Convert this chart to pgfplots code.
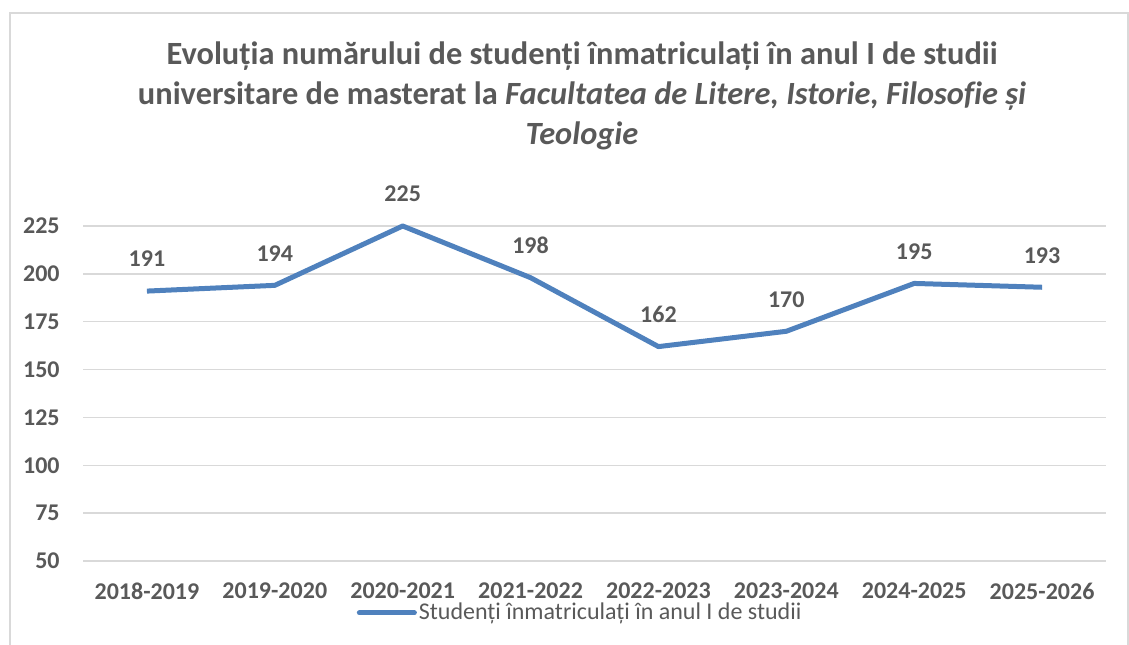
\documentclass[border=0pt]{standalone}
\usepackage{pgfplots}
\pgfplotsset{compat=1.18}
\usepackage{fontspec}
\setmainfont{Carlito}[Ligatures=NoCommon]
\definecolor{txt}{HTML}{595959}
\definecolor{gridc}{HTML}{D9D9D9}
\definecolor{lineblue}{HTML}{4F81BD}
\begin{document}
\begin{tikzpicture}
\path[use as bounding box] (0,0) rectangle (564.5pt,322pt);
\draw[gridc, line width=1pt] (5pt,-5pt) -- (5pt,315.5pt) -- (564pt,315.5pt) -- (564pt,-5pt);
\node[align=center, text=txt, font=\fontsize{16.2}{20}\selectfont\bfseries] at (291pt,274pt)
{Evoluția numărului de studenți înmatriculați în anul I de studii\\
universitare de masterat la \textit{Facultatea de Litere, Istorie, Filosofie și}\\
\textit{Teologie}};
\begin{axis}[
  at={(41.5pt,41.5pt)}, anchor=south west,
  scale only axis, width=511.5pt, height=167.5pt,
  xmin=-0.5, xmax=7.5, ymin=50, ymax=225,
  xtick={0,...,7},
  xticklabels={2018-2019,2019-2020,2020-2021,2021-2022,2022-2023,2023-2024,2024-2025,2025-2026},
  ytick={50,75,...,225},
  ymajorgrids, grid style={gridc, line width=0.75pt},
  axis line style={draw=none}, tick style={draw=none},
  /pgf/number format/assume math mode=true,
  ticklabel style={font=\fontsize{12}{14}\selectfont\bfseries, text=txt},
  xticklabel style={anchor=center, inner sep=0pt, yshift=-15pt},
  yticklabel style={anchor=east, inner sep=0pt, xshift=-11.5pt},
  clip=false,
  nodes near coords,
  every node near coord/.append style={anchor=center, yshift=16pt, font=\fontsize{12}{14}\selectfont\bfseries, text=txt},
  legend style={at={(0.486,-0.155)}, anchor=center, draw=none, fill=none, inner sep=0pt,
     font=\fontsize{12}{14}\selectfont, text=txt, nodes={inner sep=1pt}},
  legend image code/.code={\draw[#1, line cap=round] (0pt,0pt) -- (27.5pt,0pt);},
]
\addplot[lineblue, line width=2.5pt, line join=round, mark=none] coordinates {
(0,191) (1,194) (2,225) (3,198) (4,162) (5,170) (6,195) (7,193)
};
\addlegendentry{Studenți înmatriculați în anul I de studii}
\end{axis}
\end{tikzpicture}
\end{document}
